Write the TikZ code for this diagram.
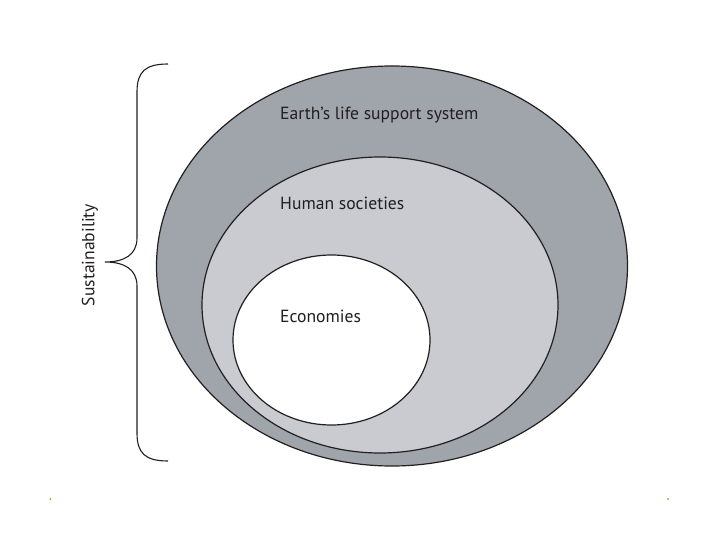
\documentclass[tikz,border=0pt]{standalone}
\usepackage{fontspec}
\setmainfont{PT Sans}
\usetikzlibrary{shapes.geometric}
\definecolor{ink}{HTML}{231F20}
\definecolor{outerfill}{HTML}{A0A5AC}
\definecolor{midfill}{HTML}{C9CBD1}
\definecolor{dotc}{HTML}{D9822B}
\tikzset{
  ring/.style={draw=ink, line width=1.2pt},
  lbl/.style={anchor=base west, inner sep=0pt, text=ink, font=\fontsize{17.6}{20}\selectfont},
}
\begin{document}
\begin{tikzpicture}[x=1pt,y=-1pt]
\useasboundingbox (0,0) rectangle (720,540);
\fill[white] (0,0) rectangle (720,540);
\draw[ring, fill=outerfill] (392,266) ellipse [x radius=235.5, y radius=200];
\draw[ring, fill=midfill] (380,305) ellipse [x radius=178, y radius=148];
\draw[ring, fill=white] (331.5,340) ellipse [x radius=98.5, y radius=85];
\node[lbl] (earth) at (280,120) {Earth’s life support system};
\node[lbl] (human) at (280,210) {Human societies};
\node[lbl] (econ) at (280,322) {Economies};
\draw[draw=ink, line width=1.1pt]
  (168,64) .. controls (145,64) and (137,72) .. (137,92)
  -- (137,238) .. controls (137,255) and (124,262) .. (105,262)
  .. controls (124,262) and (137,269) .. (137,286)
  -- (137,433) .. controls (137,453) and (145,461) .. (168,461);
\node[lbl, anchor=center, rotate=90] (sust) at (90,255) {Sustainability};
\fill[dotc] (50.5,499) circle (1pt);
\fill[dotc] (668,499) circle (1pt);
\end{tikzpicture}
\end{document}
